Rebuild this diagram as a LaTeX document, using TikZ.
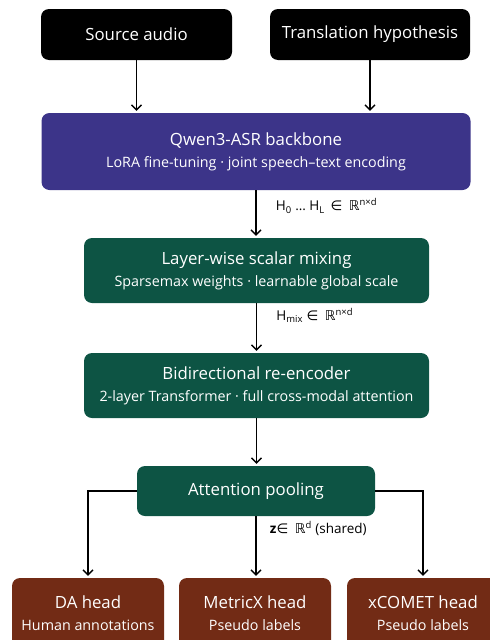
\documentclass[tikz,border=0pt]{standalone}
\usepackage{fontspec}
\setmainfont{Open Sans}
\newfontfamily\symfnt{DejaVu Sans}
\usetikzlibrary{positioning,arrows.meta}
\definecolor{backbone}{HTML}{3C3489}
\definecolor{encoder}{HTML}{0D5444}
\definecolor{headcol}{HTML}{722B15}
\tikzset{
  block/.style={rounded corners=8pt, text=white, align=center, inner sep=0pt,
    font=\fontsize{16.8}{20}\selectfont},
  flow/.style={-{Straight Barb[length=5pt,width=10pt]}, line width=1.3pt, shorten >=2pt},
  dimlab/.style={right, font=\fontsize{13.5}{16}\selectfont, xshift=16pt}
}
\newcommand{\subline}[1]{\\[2pt]{\fontsize{14.3}{17}\selectfont #1}}
\begin{document}
\begin{tikzpicture}[x=1pt, y=-1pt]
    \useasboundingbox (0,0) rectangle (490,640);
    % inputs
    \node[block, fill=black, minimum width=191pt, minimum height=51pt] (src) at (136.5,34.5) {Source audio};
    \node[block, fill=black, minimum width=200pt, minimum height=51pt] (hyp) at (370,34.5) {Translation hypothesis};
    % encoder stack
    \node[block, fill=backbone, minimum width=429pt, minimum height=77pt] (asr) at (256,151.5)
      {Qwen3-ASR backbone\subline{LoRA fine-tuning · joint speech–text encoding}};
    \node[block, fill=encoder, minimum width=345pt, minimum height=65pt] (mix) at (256.5,270.5)
      {Layer-wise scalar mixing\subline{Sparsemax weights · learnable global scale}};
    \node[block, fill=encoder, minimum width=345pt, minimum height=65pt] (renc) at (256.5,385.5)
      {Bidirectional re-encoder\subline{2-layer Transformer · full cross-modal attention}};
    \node[block, fill=encoder, minimum width=238pt, minimum height=50pt] (pool) at (256,491) {Attention pooling};
    % heads
    \node[block, fill=headcol, minimum width=152pt, minimum height=70pt] (da) at (88,613) {DA head\subline{Human annotations}};
    \node[block, fill=headcol, minimum width=152pt, minimum height=70pt] (mx) at (255,613) {MetricX head\subline{Pseudo labels}};
    \node[block, fill=headcol, minimum width=152pt, minimum height=70pt] (xc) at (423,613) {xCOMET head\subline{Pseudo labels}};
    % connectors
    \draw[flow] (src.south) -- (src.south |- asr.north);
    \draw[flow] (hyp.south) -- (hyp.south |- asr.north);
    \draw[flow] (asr.south) -- (asr.south |- mix.north)
      node[dimlab, pos=0.33] {H\textsubscript{0} … H\textsubscript{L} \,{\symfnt ∈\, ℝ}\textsuperscript{n×d}};
    \draw[flow] (mix.south) -- (mix.south |- renc.north)
      node[dimlab, pos=0.25] {H\textsubscript{mix} {\symfnt ∈\, ℝ}\textsuperscript{n×d}};
    \draw[flow] (renc.south) -- (renc.south |- pool.north);
    \draw[flow] (pool.south) -- (pool.south |- mx.north)
      node[dimlab, pos=0.2, xshift=-6pt] {\textbf{z}{\symfnt ∈\, ℝ}\textsuperscript{d} (shared)};
    \draw[flow] (pool.west) -| (da.north);
    \draw[flow] (pool.east) -| (xc.north);
\end{tikzpicture}
\end{document}
